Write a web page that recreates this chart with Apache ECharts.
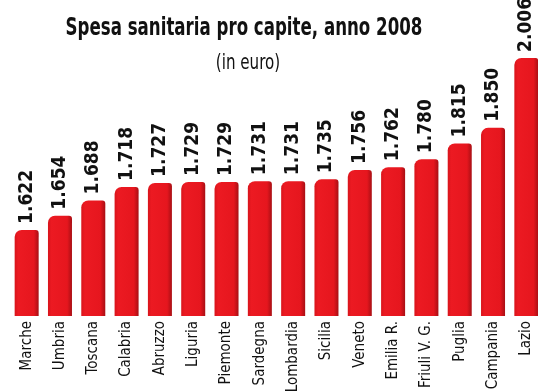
<!DOCTYPE html>
<html><head><meta charset="utf-8">
<script src="https://cdn.jsdelivr.net/npm/echarts@6/dist/echarts.min.js"></script>
<style>html,body{margin:0;padding:0;background:#fff}#c{width:538px;height:392px}</style>
</head><body><div id="c"></div>
<script>
var categories = ["Marche","Umbria","Toscana","Calabria","Abruzzo","Liguria","Piemonte","Sardegna","Lombardia","Sicilia","Veneto","Emilia R.","Friuli V. G.","Puglia","Campania","Lazio"];
var values = [1622,1654,1688,1718,1727,1729,1729,1731,1731,1735,1756,1762,1780,1815,1850,2006];
var titleText = "Spesa sanitaria pro capite, anno 2008";
var subtitleText = "(in euro)";

var chart = echarts.init(document.getElementById('c'), null, {renderer:'canvas'});
var narrow = '"DejaVu Sans Condensed","Liberation Sans Narrow",sans-serif';
function fmt(v){ var s=String(v); return s.length>3 ? s.slice(0,s.length-3)+'.'+s.slice(-3) : s; }
chart.setOption({
  backgroundColor:'#ffffff',
  animation:false,
  graphic:[{
    type:'text', x:244, y:16, scaleX:0.74,
    style:{text:titleText, textAlign:'center', textVerticalAlign:'top',
      font:'bold 25px ' + narrow, fill:'#111'}
  },{
    type:'text', x:248, y:53, scaleX:0.8,
    style:{text:subtitleText, textAlign:'center', textVerticalAlign:'top',
      font:'normal 21px ' + narrow, fill:'#111'}
  }],
  grid:{left:10, right:-5, top:10, bottom:76, outerBoundsMode:'none', containLabel:false},
  xAxis:{type:'category', data:categories,
    axisLine:{show:false}, axisTick:{show:false},
    axisLabel:{rotate:90, interval:0, margin:5, color:'#111', fontFamily:narrow, fontSize:15}
  },
  yAxis:{type:'value', min:1430, max:2113, show:false, splitLine:{show:false}},
  series:[{
    type:'bar', data:values, barWidth:24,
    itemStyle:{
      borderRadius:[7,3,0,0],
      color:new echarts.graphic.LinearGradient(0,0,1,0,[
        {offset:0,color:'#d8141b'},{offset:0.15,color:'#ec1a22'},
        {offset:0.8,color:'#e6161e'},{offset:1,color:'#a80f14'}])
    },
    label:{show:true, position:'top', rotate:90, align:'left', verticalAlign:'middle',
      distance:3, offset:[3,0],
      formatter:function(p){return fmt(p.value);},
      fontFamily:narrow, fontWeight:'bold', fontSize:19, color:'#111'}
  }]
});
</script></body></html>
